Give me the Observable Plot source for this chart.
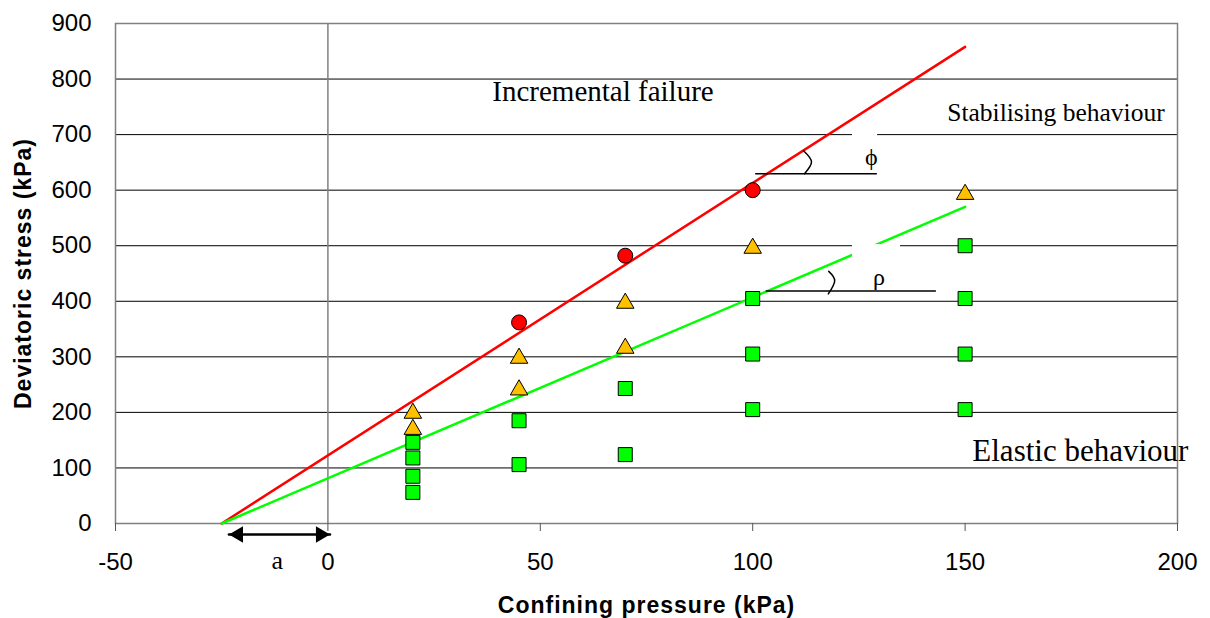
<!DOCTYPE html>
<html><head><meta charset="utf-8">
<script src="https://cdn.jsdelivr.net/npm/d3@7"></script>
<script src="https://cdn.jsdelivr.net/npm/@observablehq/plot@0.6"></script>
<style>body{margin:0;background:#fff;}</style>
</head><body><div id="chart"></div>
<script>
// ---- data ----
const xTicks = [-50, 0, 50, 100, 150, 200];
const yTicks = [0, 100, 200, 300, 400, 500, 600, 700, 800, 900];
const gridY = [100, 200, 300, 400, 500, 600, 700, 800];

// incremental failure (red circles)
const circleX = [45, 70, 100];
const circleY = [362, 482, 600];
// stabilising behaviour (yellow triangles)
const triX = [20, 20, 45, 45, 70, 70, 100, 150];
const triY = [203, 174, 302, 245, 401, 320, 500, 597];
// elastic behaviour (green squares)
const sqX = [20, 20, 20, 20, 45, 45, 70, 70, 100, 100, 100, 150, 150, 150, 150];
const sqY = [146, 118, 85, 56, 185, 106, 243, 124, 405, 305, 205, 500, 405, 305, 205];

// boundary lines
const lineX = [-25, 150];
const redY = [0, 858];
const greenY = [0, 570];

// annotations
const regionLabels = ["Incremental failure", "Stabilising behaviour", "Elastic behaviour"];
const regionX = [38.7, 145.8, 151.7];
const regionY = [761, 723.7, 112];
const regionSize = [29, 25.5, 31];

const phiLineX = [100.7, 129.1], phiLineY = [629.6, 629.6];
const phiArcX = [111.96, 113.84, 112.2], phiArcY = [671, 651, 629.6];
const rhoLineX = [103.2, 143.0], rhoLineY = [418.6, 418.6];
const rhoArcX = [117.9, 119.3, 117.8], rhoArcY = [453.9, 437, 413.2];
const greekLabels = ["\u03D5", "\u03C1"];
const greekX = [127.9, 129.7];
const greekY = [660, 443];
const boxX1 = [123.5, 123.5], boxX2 = [129.4, 134.8];
const boxY1 = [638.6, 426], boxY2 = [705, 502];

const arrowX = [-23.3, 0.5];
const aLabelX = [-11.9];

// ---- tables ----
const pts = (xs, ys) => xs.map((x, i) => ({x, y: ys[i]}));
const circles = pts(circleX, circleY);
const tris = pts(triX, triY);
const squares = pts(sqX, sqY);
const regions = regionLabels.map((t, i) => ({t, x: regionX[i], y: regionY[i], s: regionSize[i]}));
const greek = greekLabels.map((t, i) => ({t, x: greekX[i], y: greekY[i]}));
const boxes = boxX1.map((x1, i) => ({x1, x2: boxX2[i], y1: boxY1[i], y2: boxY2[i]}));

const serif = "'Liberation Serif', 'Times New Roman', serif";

const chart = Plot.plot({
  width: 1210, height: 618,
  marginLeft: 115, marginRight: 33, marginTop: 23, marginBottom: 95,
  style: {fontFamily: "'Liberation Sans', Arial, sans-serif", background: "#fff", overflow: "visible"},
  x: {domain: [-50, 200]},
  y: {domain: [0, 900]},
  marks: [
    Plot.ruleY(gridY, {stroke: "#000", strokeWidth: 1}),
    Plot.ruleX([0], {stroke: "#808080", strokeWidth: 1.5}),
    Plot.frame({stroke: "#808080", strokeWidth: 1.5}),
    Plot.axisY(yTicks, {tickSize: 0, tickPadding: 24, fontSize: 24, fill: "#000", label: null, tickFormat: d => String(d)}),
    Plot.axisX(xTicks, {tickSize: 8, tickPadding: 21, fontSize: 24, fill: "#000", stroke: "#555", label: null, tickFormat: d => String(d)}),
    Plot.line(pts(lineX, redY), {x: "x", y: "y", stroke: "#ff0000", strokeWidth: 2.5}),
    Plot.line(pts(lineX, greenY), {x: "x", y: "y", stroke: "#00ff00", strokeWidth: 2.5}),
    Plot.rect(boxes, {x1: "x1", x2: "x2", y1: "y1", y2: "y2", fill: "#fff"}),
    Plot.line(pts(phiLineX, phiLineY), {x: "x", y: "y", stroke: "#000", strokeWidth: 1.5}),
    Plot.line(pts(phiArcX, phiArcY), {x: "x", y: "y", stroke: "#000", strokeWidth: 1.5, curve: "natural"}),
    Plot.line(pts(rhoLineX, rhoLineY), {x: "x", y: "y", stroke: "#000", strokeWidth: 1.5}),
    Plot.line(pts(rhoArcX, rhoArcY), {x: "x", y: "y", stroke: "#000", strokeWidth: 1.5, curve: "natural"}),
    Plot.dot(squares, {x: "x", y: "y", symbol: "square", r: 7.9, fill: "#00ff00", stroke: "#000", strokeWidth: 1}),
    Plot.dot(tris, {x: "x", y: "y", symbol: "triangle", r: 6.5, dy: 2.5, fill: "#ffc000", stroke: "#000", strokeWidth: 1}),
    Plot.dot(circles, {x: "x", y: "y", r: 7.5, fill: "#ff0000", stroke: "#000", strokeWidth: 1}),
    // distance a arrow
    Plot.line(arrowX, {x: d => d, y: () => 0, dy: 11, stroke: "#000", strokeWidth: 2.5}),
    Plot.dot([arrowX[0]], {x: d => d, y: () => 0, dx: 9.4, dy: 11, symbol: "triangle", rotate: -90, r: 6.04, fill: "#000"}),
    Plot.dot([arrowX[1]], {x: d => d, y: () => 0, dx: -9.4, dy: 11, symbol: "triangle", rotate: 90, r: 6.04, fill: "#000"}),
    Plot.text(aLabelX, {x: d => d, y: () => 0, dy: 45, text: () => "a", lineAnchor: "bottom", fontFamily: serif, fontSize: 26, fill: "#000"}),
    // region labels
    Plot.text(regions, {x: "x", y: "y", text: "t", textAnchor: "start", lineAnchor: "bottom", fontFamily: serif, fontSize: d => d.s, fill: "#000"}),
    Plot.text(greek, {x: "x", y: "y", text: "t", fontFamily: serif, fontSize: 24, fill: "#000"}),
    // axis titles
    Plot.text(["Confining pressure (kPa)"], {text: d => d, frameAnchor: "bottom", textAnchor: "middle", dy: 89, lineAnchor: "bottom", fontWeight: "bold", fontSize: 23, fill: "#000"}),
    Plot.text(["Deviatoric stress (kPa)"], {text: d => d, frameAnchor: "left", textAnchor: "middle", dx: -85, rotate: -90, lineAnchor: "bottom", fontWeight: "bold", fontSize: 23, fill: "#000"})
  ]
});
d3.select(chart).selectAll("text").each(function () {
  if (this.textContent.includes("(kPa)")) this.setAttribute("letter-spacing", "1");
});
document.getElementById("chart").appendChild(chart);
</script>
</body></html>
